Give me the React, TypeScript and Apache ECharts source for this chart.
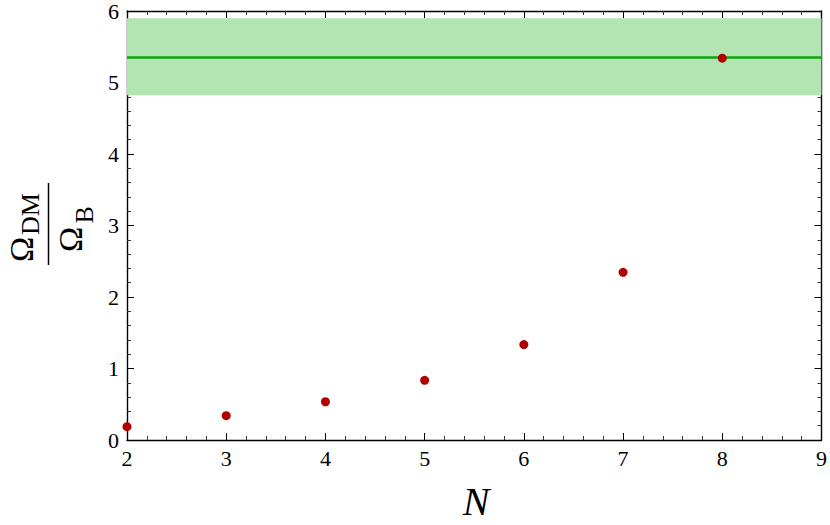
import React, { useEffect, useRef } from "react";
import * as echarts from "echarts";

// Data
const nValues = [2, 3, 4, 5, 6, 7, 8];
const ratioValues = [0.186, 0.34, 0.535, 0.835, 1.335, 2.345, 5.34];
const observedCentral = 5.36;
const observedLow = 4.82;
const observedHigh = 5.9;
const xTickRange = [2, 9];
const yTickRange = [0, 6];

const FONT = "Liberation Serif";

export default function App() {
  const ref = useRef<HTMLDivElement>(null);
  useEffect(() => {
    document.body.style.margin = "0";
    const chart = echarts.init(ref.current!, null, { renderer: "svg" });
    const axisCommon = (showLabel: boolean, margin: number) => ({
      axisLine: { show: true, onZero: false, lineStyle: { color: "#000", width: 1.4 } },
      axisTick: { show: true, inside: true, length: 7, lineStyle: { color: "#000", width: 1 } },
      minorTick: { show: true, splitNumber: 5, length: 4, lineStyle: { color: "#333", width: 1 } },
      axisLabel: { show: showLabel, color: "#000", fontSize: 22, fontFamily: FONT, margin },
      splitLine: { show: false },
      minorSplitLine: { show: false },
    });
    const pts = nValues.map((n, i) => [n, ratioValues[i]]);
    const txt = (text: string, x: number, y: number, size: number) => ({
      type: "text",
      x,
      y,
      style: { text, fontSize: size, lineHeight: Math.round(size * 0.75), fontFamily: FONT, fill: "#000", align: "left", verticalAlign: "middle" },
    });
    chart.setOption({
      animation: false,
      backgroundColor: "#fff",
      grid: { left: 127, right: 6, top: 10, bottom: 85, containLabel: false },
      xAxis: [
        { type: "value", min: xTickRange[0], max: xTickRange[1], interval: 1, position: "bottom", ...axisCommon(true, 7) },
        { type: "value", min: xTickRange[0], max: xTickRange[1], interval: 1, position: "top", ...axisCommon(false, 7) },
      ],
      yAxis: [
        { type: "value", min: yTickRange[0], max: yTickRange[1], interval: 1, position: "left", ...axisCommon(true, 8) },
        { type: "value", min: yTickRange[0], max: yTickRange[1], interval: 1, position: "right", ...axisCommon(false, 8) },
      ],
      series: [
        {
          type: "line",
          data: [],
          z: 1,
          silent: true,
          markArea: {
            silent: true,
            itemStyle: { color: "#b3e5b2", opacity: 1 },
            data: [[{ yAxis: observedLow }, { yAxis: observedHigh }]],
          },
          markLine: {
            silent: true,
            symbol: "none",
            label: { show: false },
            lineStyle: { color: "#0ea50e", width: 2.6, type: "solid", opacity: 1 },
            data: [{ yAxis: observedCentral }],
          },
        },
        {
          type: "scatter",
          z: 5,
          data: pts,
          symbol: "circle",
          symbolSize: 9,
          itemStyle: { color: "#b00000", opacity: 1 },
        },
      ],
      graphic: [
        {
          type: "group",
          x: 48.5,
          y: 224,
          rotation: Math.PI / 2,
          children: [
            { type: "line", shape: { x1: -41, y1: 0, x2: 41, y2: 0 }, style: { stroke: "#000", lineWidth: 1.5 } },
            txt("Ω", -38, -27, 34),
            txt("DM", -11, -18.5, 26),
            txt("Ω", -28, 22, 34),
            txt("B", 0.5, 35.5, 26),
          ],
        },
        {
          type: "text",
          x: 476,
          y: 501,
          style: { text: "N", fontSize: 40, lineHeight: 30, fontStyle: "italic", fontFamily: FONT, fill: "#000", align: "center", verticalAlign: "middle" },
        },
      ],
    });
    return () => chart.dispose();
  }, []);
  return <div ref={ref} style={{ width: 830, height: 525, position: "absolute", left: 0, top: 0 }} />;
}
